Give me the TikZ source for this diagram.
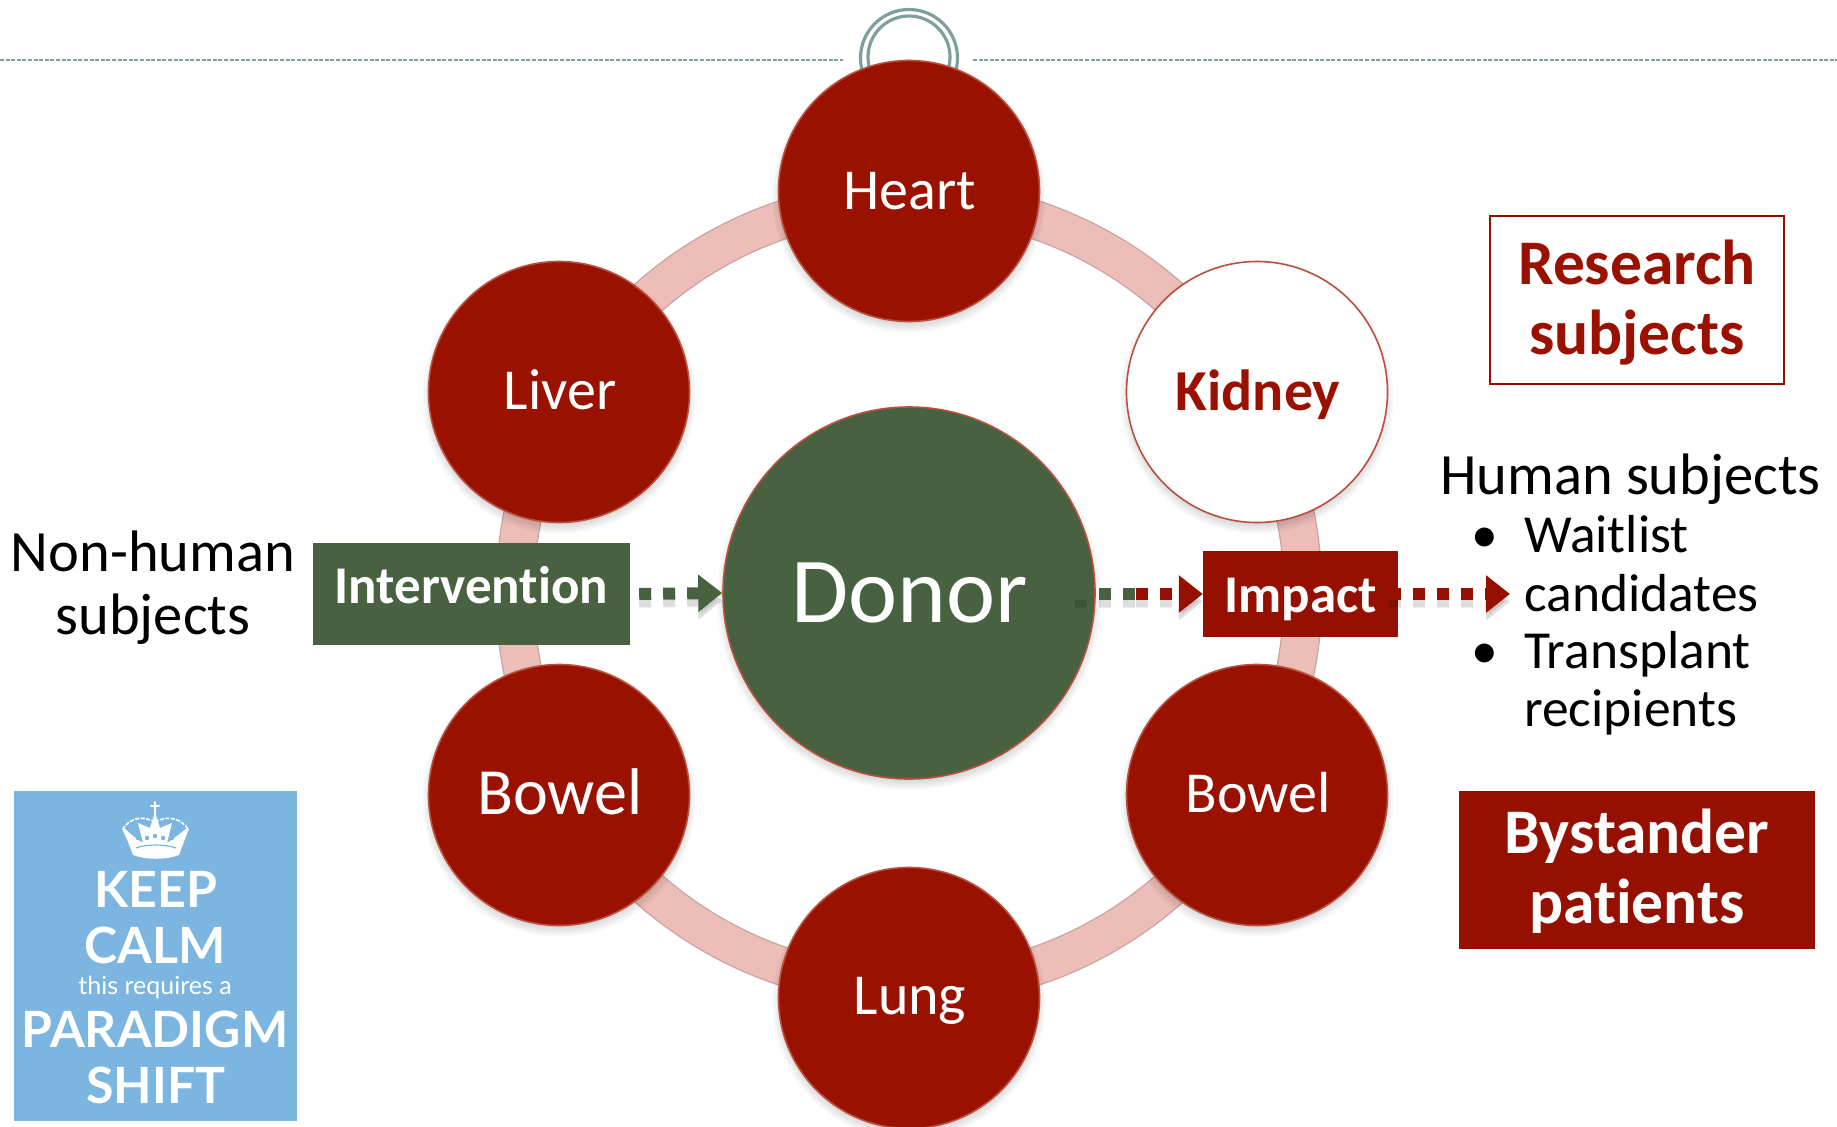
\documentclass[tikz,border=0pt]{standalone}
\usepackage{fontspec}
\setmainfont[Ligatures=CommonOff]{Carlito}
\newfontfamily\posterfont{Lato}
\usetikzlibrary{arrows.meta}
\definecolor{organred}{HTML}{9B1100}
\definecolor{boxred}{HTML}{951000}
\definecolor{edgered}{HTML}{B8503F}
\definecolor{donorgreen}{HTML}{486141}
\definecolor{ringfill}{HTML}{EDBDB8}
\definecolor{ringedge}{HTML}{C9A5A1}
\definecolor{ruleteal}{HTML}{7F9F9F}
\definecolor{posterblue}{HTML}{7CB6E0}
\newcommand{\softshadow}[3]{%
  \foreach \k in {0,2,...,10}{\fill[black,opacity=.028] (#1,#2+5) circle ({#3+\k-4});}}
\tikzset{
  organ/.style={circle,draw=edgered,line width=1.6pt,fill=organred,text=white,minimum size=261pt,inner sep=0pt,font=\fontsize{58}{58}\selectfont,execute at begin node={\kern2pt}},
  hubdisc/.style={circle,draw=edgered,line width=1.6pt,fill=donorgreen,text=white,minimum size=372pt,inner sep=0pt,font=\fontsize{93}{93}\selectfont,execute at begin node={\kern2pt}},
  labelbox/.style={rectangle,inner sep=0pt,text=white,font=\fontsize{53}{53}\selectfont\bfseries},
  plain/.style={anchor=base,inner sep=0pt,text=black,font=\fontsize{58.5}{58.5}\selectfont},
  listtext/.style={anchor=base west,inner sep=0pt,text=black,font=\fontsize{53.5}{53.5}\selectfont},
  keyline/.style={anchor=base,inner sep=0pt,text=organred,font=\fontsize{63.5}{63.5}\selectfont\bfseries},
  fillline/.style={anchor=base,inner sep=0pt,text=white,font=\fontsize{63.5}{63.5}\selectfont\bfseries},
  poster/.style={anchor=base,inner sep=0pt,text=white,font=\posterfont\bfseries\fontsize{50}{50}\selectfont},
  squares base/.style={line width=12pt,dash pattern=on 12pt off 12pt,dash phase=#1},
  square shadow/.style={preaction={draw=black,opacity=.06,line width=18pt,squares base=#1,transform canvas={yshift=-8pt}},
    preaction={draw=black,opacity=.08,line width=12pt,squares base=#1,transform canvas={yshift=-7pt}}},
  dotted arrow/.style 2 args={draw=#1,squares base=#2,square shadow=#2,
    -{Triangle[length=24pt,width=36pt,fill=#1]}},
  dotted plain/.style 2 args={draw=#1,squares base=#2,square shadow=#2},
  rulebar/.style={draw=ruleteal,line width=1.4pt,dash pattern=on 4pt off 1.6pt},
  hookring/.style={draw=ruleteal,line width=3.2pt}
}
\begin{document}
\begin{tikzpicture}[x=1pt,y=-1pt]
\useasboundingbox (0,0) rectangle (1837,1127);
\fill[white] (0,0) rectangle (1837,1127);
% slide furniture
\draw[rulebar] (0,60) -- (843,60);
\draw[rulebar] (973,60) -- (1837,60);
\draw[hookring] (909,58) circle (48.5);
\draw[hookring] (909,57) circle (41);
% ring
\coordinate (hub) at (909,593);
\draw[draw=ringedge,line width=1.2pt,fill=ringfill,even odd rule] (hub) circle (413) (hub) circle (375);
% shadows
\softshadow{909}{191}{130.5}
\softshadow{559}{392}{130.5}
\softshadow{1257}{392}{130.5}
\softshadow{559}{795}{130.5}
\softshadow{1257}{795}{130.5}
\softshadow{909}{998}{130.5}
\softshadow{909}{593}{186}
% organ circles
\node[organ] (heart) at (909,191) {Heart};
\node[organ,text height=35pt,text depth=0pt] (liver) at (559,392) {Liver};
\node[organ,fill=white,text=organred,font=\fontsize{58}{58}\selectfont\bfseries,text height=40pt,text depth=4pt] (kidney) at (1257,392) {Kidney};
\node[organ,font=\fontsize{66}{66}\selectfont,text height=38pt,text depth=0pt] (bowelL) at (559,795) {Bowel};
\node[organ,text height=35pt,text depth=0pt] (bowelR) at (1257,795) {Bowel};
\node[organ,text height=38pt,text depth=6pt] (lung) at (909,998) {Lung};
\node[hubdisc] (donor) at (909,593) {Donor};
% boxes
\node[labelbox,fill=donorgreen,minimum width=317pt,minimum height=102pt,text depth=19pt] (intervention) at (471.5,594) {Intervention};
\node[labelbox,fill=boxred,minimum width=195pt,minimum height=86pt,text height=36pt,text depth=0pt] (impact) at (1300.5,594) {Impact};
\node[rectangle,draw=boxred,line width=1.6pt,fill=white,minimum width=294pt,minimum height=168pt] (research) at (1637,300) {};
\node[rectangle,fill=boxred,minimum width=356pt,minimum height=158pt] (bystander) at (1637,870) {};
% box text
\node[keyline] (res1) at (1637,284) {Research};
\node[keyline] (res2) at (1637,354) {subjects};
\node[fillline] (by1) at (1637,853) {Bystander};
\node[fillline] (by2) at (1637,923) {patients};
% left and right text
\node[plain] (nh1) at (153,571) {Non-human};
\node[plain] (nh2) at (153,634) {subjects};
\node[plain,anchor=base west] (hs) at (1440,494) {Human subjects};
\node[listtext] (bu1) at (1471,552) {•};
\node[listtext] (li1) at (1524,552) {Waitlist};
\node[listtext] (li2) at (1524,611) {candidates};
\node[listtext] (bu2) at (1471,668) {•};
\node[listtext] (li3) at (1524,668) {Transplant};
\node[listtext] (li4) at (1524,726) {recipients};
% connectors
\coordinate (gstart) at (1075,594);
\coordinate (rstart) at (1136,594);
\coordinate (ostart) at (1389,594);
\coordinate (oend) at (1510,594);
\draw[dotted arrow={donorgreen}{15pt}] (intervention.east |- 0,594) -- (donor.west);
\draw[dotted plain={donorgreen}{0pt}] (gstart) -- (rstart);
\draw[dotted arrow={boxred}{0pt}] (rstart) -- (impact.west);
\draw[dotted arrow={boxred}{0pt}] (ostart) -- (oend);
% poster
\fill[posterblue] (14,791) rectangle (297,1121);
\begin{scope}
\fill[white] (143,843) .. controls (127,833) and (125,826) .. (122,829) .. controls (127,838) and (131,850) .. (133,855) .. controls (146,860) and (166,860) .. (179,855) .. controls (181,850) and (185,838) .. (189,829) .. controls (186,826) and (183,833) .. (167,843) -- (172,823) -- (160,828) -- (155,812) -- (150,828) -- (138,823) -- cycle;
\draw[white,line width=2pt,line cap=round] (155,802) -- (155,815) (151,806) -- (159,806);
\draw[white,line width=1.6pt,dash pattern=on 4pt off 1.5pt] (155,822) .. controls (140,814) and (128,820) .. (123,829);
\draw[white,line width=1.6pt,dash pattern=on 4pt off 1.5pt] (155,822) .. controls (170,814) and (182,820) .. (188,829);
\fill[posterblue] (138,838) circle (2.2) (147,838) circle (2.2) (155,836) circle (2.2) (163,838) circle (2.2) (172,838) circle (2.2);
\draw[posterblue,line width=1.2pt] (136,848) .. controls (146,844) and (165,844) .. (176,848);
\end{scope}
\node[poster] (p1) at (156,907) {KEEP};
\node[poster] (p2) at (155,963) {CALM};
\node[poster,font=\posterfont\fontsize{25}{25}\selectfont] (p3) at (155,994) {this requires a};
\node[poster] (p4) at (155,1047) {PARADIGM};
\node[poster] (p5) at (156,1103) {SHIFT};
\end{tikzpicture}
\end{document}
